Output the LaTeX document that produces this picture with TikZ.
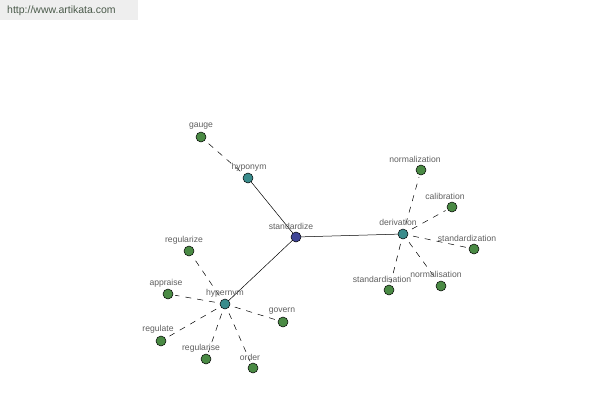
\documentclass[tikz,border=0pt]{standalone}
\usepackage{fontspec}
\setmainfont{Liberation Sans}
\begin{document}
\begin{tikzpicture}[x=1pt,y=-1pt,
  vtx/.style={circle,draw=black,line width=0.5pt,minimum size=10pt,inner sep=0pt},
  root/.style={vtx,fill=rootc},
  rel/.style={vtx,fill=relc},
  leaf/.style={vtx,fill=leafc},
  lbl/.style={text=lblc,font=\fontsize{8.6}{9}\selectfont,inner sep=0pt},
  solidedge/.style={draw=black,line width=0.5pt},
  dashedge/.style={draw=black,line width=0.5pt,dash pattern=on 6pt off 6pt,shorten <=5pt,shorten >=2pt}]
\definecolor{rootc}{HTML}{3F4596}
\definecolor{relc}{HTML}{3A8C8C}
\definecolor{leafc}{HTML}{4A8A44}
\definecolor{lblc}{HTML}{606060}
\definecolor{wmbg}{HTML}{EEEEEE}
\definecolor{wmtxt}{HTML}{4A5A4A}
\useasboundingbox[fill=white] (0,0) rectangle (600,400);
\fill[wmbg] (0,0) rectangle (138,20);
\node[text=wmtxt,font=\fontsize{10.5}{12}\selectfont,anchor=west,inner sep=0pt] (wm) at (7,11) {http://www.artikata.com};
% nodes
\node[root] (std) at (296,237) {};
\node[rel] (hypo) at (248,178) {};
\node[leaf] (gauge) at (201,137) {};
\node[rel] (der) at (403,234) {};
\node[leaf] (norz) at (421,170) {};
\node[leaf] (cal) at (452,207) {};
\node[leaf] (stdz) at (474,249) {};
\node[leaf] (nors) at (441,286) {};
\node[leaf] (stds) at (389,290) {};
\node[rel] (hyper) at (225,304) {};
\node[leaf] (regz) at (189,251) {};
\node[leaf] (appr) at (168,294) {};
\node[leaf] (regt) at (161,341) {};
\node[leaf] (regs) at (206,359) {};
\node[leaf] (order) at (253,368) {};
\node[leaf] (gov) at (283,322) {};
% edges
\path[solidedge] (std) -- (hypo);
\path[solidedge] (std) -- (der);
\path[solidedge] (std) -- (hyper);
\path[dashedge] (hypo) -- (gauge);
\foreach \t in {norz,cal,stdz,nors,stds} {\path[dashedge] (der) -- (\t);}
\foreach \t in {regz,appr,regt,regs,order,gov} {\path[dashedge] (hyper) -- (\t);}
% labels
\node[lbl] (lgauge) at (201,126) {gauge};
\node[lbl] (lhypo) at (249,167) {hyponym};
\node[lbl] (lstd) at (291,226) {standardize};
\node[lbl] (lder) at (398,222) {derivation};
\node[lbl] (lnorz) at (415,159) {normalization};
\node[lbl] (lcal) at (445,196) {calibration};
\node[lbl] (lstdz) at (467,238) {standardization};
\node[lbl] (lnors) at (436,274) {normalisation};
\node[lbl] (lstds) at (382,279) {standardisation};
\node[lbl] (lhyper) at (225,293) {hypernym};
\node[lbl] (lregz) at (184,240) {regularize};
\node[lbl] (lappr) at (166,283) {appraise};
\node[lbl] (lregt) at (158,329) {regulate};
\node[lbl] (lregs) at (201,348) {regularise};
\node[lbl] (lorder) at (250,357) {order};
\node[lbl] (lgov) at (282,311) {govern};
\end{tikzpicture}
\end{document}
